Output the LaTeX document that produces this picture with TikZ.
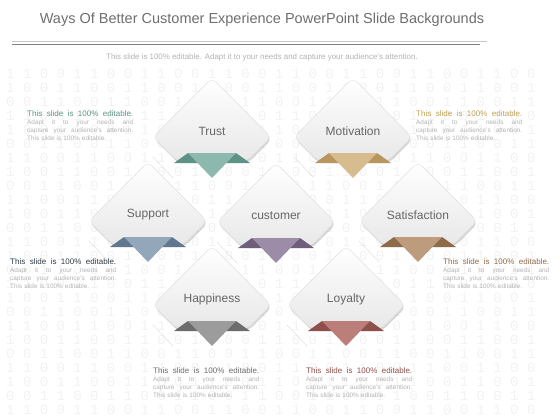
\documentclass[tikz,border=0pt]{standalone}
\usepackage{fontspec}
\setmainfont{Liberation Sans}
\newfontfamily\digitfont{Liberation Mono}
\usetikzlibrary{shadows}

\definecolor{trustlight}{HTML}{8DB8AE}
\definecolor{trustdark}{HTML}{5E9286}
\definecolor{motivlight}{HTML}{D6BC8E}
\definecolor{motivdark}{HTML}{B8975E}
\definecolor{supportlight}{HTML}{93A6BA}
\definecolor{supportdark}{HTML}{61778F}
\definecolor{custlight}{HTML}{9C8CA8}
\definecolor{custdark}{HTML}{6E5E7C}
\definecolor{satislight}{HTML}{BC9C7C}
\definecolor{satisdark}{HTML}{8E6A48}
\definecolor{happylight}{HTML}{9C9C9C}
\definecolor{happydark}{HTML}{6C6C6C}
\definecolor{loyallight}{HTML}{BC7E78}
\definecolor{loyaldark}{HTML}{8E504A}

% note text beside the tiles
\newcommand{\editnote}[1]{%
  {\color{#1}\fontsize{8}{8}\selectfont This\hfill slide\hfill is\hfill 100\%\hfill editable.}\\
  \color{black!30}Adapt\hfill it\hfill to\hfill your\hfill needs\hfill and\\
  capture\hfill your\hfill audience's\hfill attention.\\
  This slide is 100\% editable.}

\begin{document}
\begin{tikzpicture}[x=1pt,y=-1pt,
  tile/.style={draw=black!12,top color=white,bottom color=black!9,rounded corners=6pt,
    drop shadow={shadow xshift=1pt,shadow yshift=-2pt,opacity=0.35,fill=black!45}},
  tilename/.style={text=black!60,font=\fontsize{12}{12}\selectfont},
  note/.style={anchor=north west,inner sep=0pt,align=left,text width=106pt,
    font=\fontsize{6.4}{8}\selectfont},
  binrow/.style={anchor=west,inner sep=0pt,text=black!5,font=\digitfont\fontsize{14}{14}\selectfont}]
\useasboundingbox (0,0) rectangle (560,420);

% binary background
\foreach \r [evaluate={\yy=int(74+14*\r); \k=int(mod(\r,3))}] in {0,...,24}{
  \ifnum\k=0
    \node[binrow] (row\r) at (6,\yy) {1 1 0 0 1 1 0 0 1 1 0 0 1 1 0 0 1 1 0 0 1 1 0 0 1 1 0 0 1 1 0 0};
  \else\ifnum\k=1
    \node[binrow] (row\r) at (6,\yy) {1 0 0 1 1 0 0 1 1 0 0 1 1 0 0 1 1 0 0 1 1 0 0 1 1 0 0 1 1 0 0 1};
  \else
    \node[binrow] (row\r) at (6,\yy) {0 0 1 1 0 0 1 1 0 0 1 1 0 0 1 1 0 0 1 1 0 0 1 1 0 0 1 1 0 0 1 1};
  \fi\fi
}

% heading
\node[text=black!57,font=\fontsize{14.5}{16}\selectfont] (title) at (262,20)
  {Ways Of Better Customer Experience PowerPoint Slide Backgrounds};
\draw[black!22,line width=0.5pt] (12,41) -- (487,41);
\draw[black!50,line width=0.9pt] (12,44) -- (480,44);
\node[text=black!30,font=\fontsize{7.9}{8}\selectfont] (subtitle) at (262,57)
  {This slide is 100\% editable. Adapt it to your needs and capture your audience's attention.};

% tiles
\foreach \cx/\cy/\name/\txt/\clr in {212/137/trust/Trust/trust,
    353/137/motiv/Motivation/motiv,
    148/221/support/Support/support,
    276/222/cust/customer/cust,
    418/221/satis/Satisfaction/satis,
    212/305/happy/Happiness/happy,
    346/305/loyal/Loyalty/loyal}{
  \begin{scope}[shift={(\cx,\cy)}]
    \draw[black!14] (-59,20) -- (-39,41);
    \path[tile] (0,-59) -- (59,0) -- (35,24) -- (-35,24) -- (-59,0) -- cycle;
    \fill[\clr dark] (-38,26) -- (-24,16) -- (-10,26) -- cycle;
    \fill[\clr dark] (38,26) -- (24,16) -- (10,26) -- cycle;
    \fill[\clr light] (-24,16) -- (24,16) -- (0,41) -- cycle;
    \node[tilename] (\name) at (0,-6) {\txt};
  \end{scope}
}

% notes
\node[note] (noteTL) at (27,111) {\editnote{trustdark}};
\node[note] (noteTR) at (416,111) {\editnote{motivdark!90!yellow}};
\node[note] (noteML) at (10,259) {\editnote{supportdark!50!black}};
\node[note] (noteMR) at (443,259) {\editnote{satisdark}};
\node[note] (noteBL) at (153,368) {\editnote{happydark}};
\node[note] (noteBR) at (306,368) {\editnote{loyaldark}};
\end{tikzpicture}
\end{document}
